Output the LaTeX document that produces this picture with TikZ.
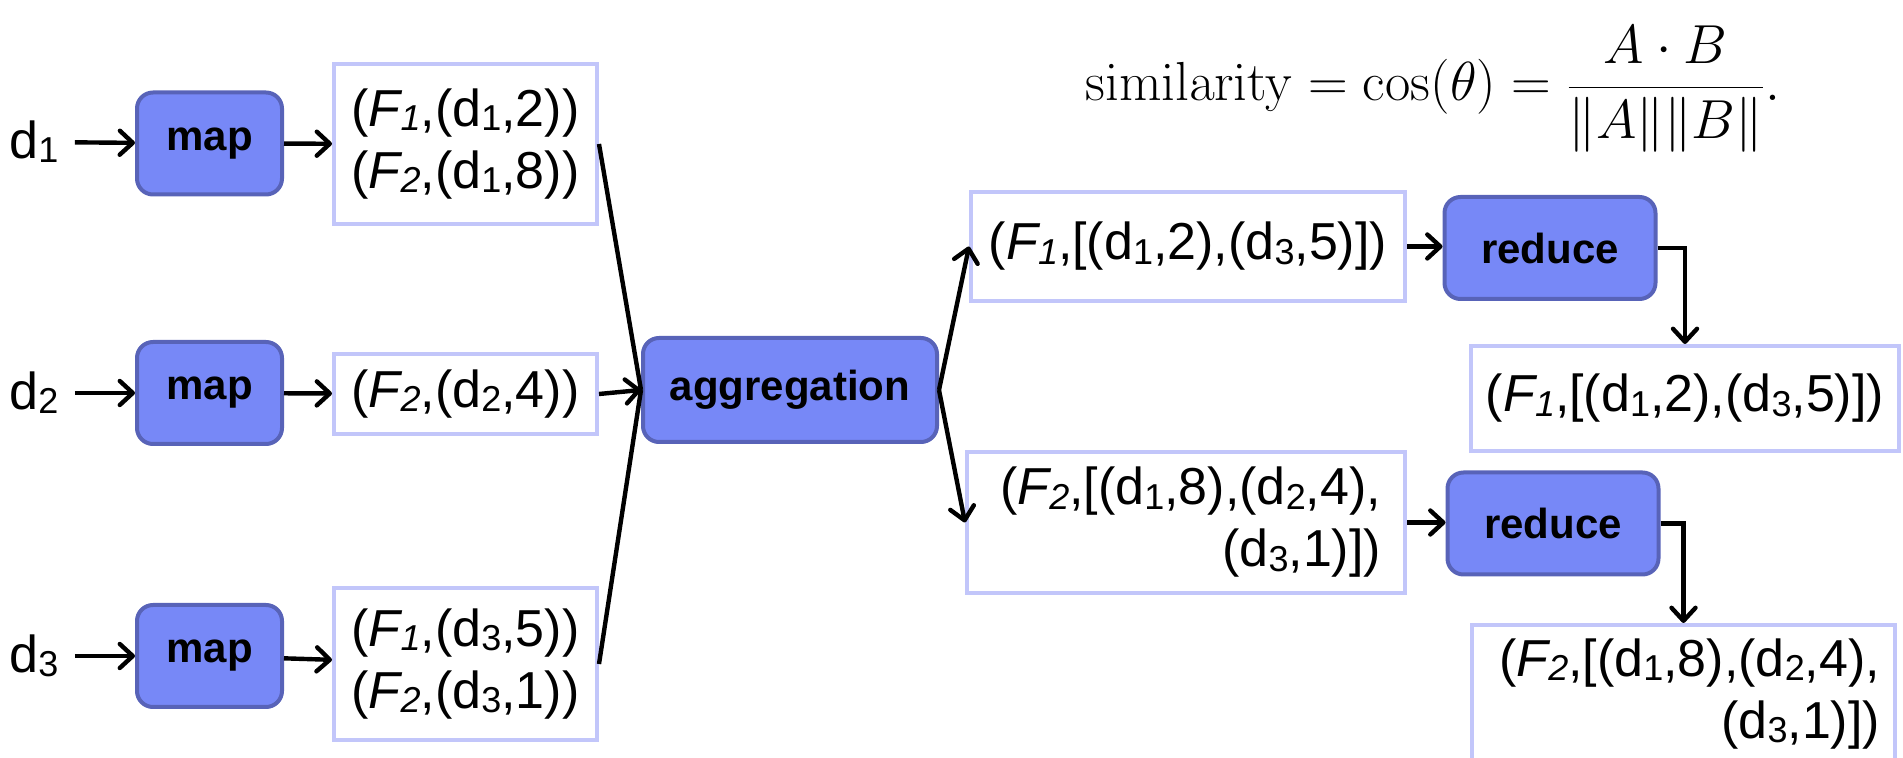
\documentclass[tikz,border=0pt]{standalone}
\usepackage{fix-cm}
\usepackage[no-math]{fontspec}
\setmainfont{Liberation Sans}
\usetikzlibrary{arrows.meta}

\definecolor{funcfill}{HTML}{7788F7}
\definecolor{funcline}{HTML}{5863B8}
\definecolor{pairline}{HTML}{C2C6FA}

\newcommand{\lowdigit}[1]{\raisebox{-0.15ex}{\fontsize{18}{18}\selectfont #1}}
\newcommand{\Fk}[1]{\textit{F\lowdigit{#1}}}
\newcommand{\dk}[1]{d\lowdigit{#1}}

\tikzset{
  func/.style={draw=funcline, fill=funcfill, line width=2pt, rounded corners=8pt,
    font=\fontsize{21}{25}\selectfont\bfseries, inner sep=0pt, minimum height=51pt},
  pair/.style={draw=pairline, line width=2pt, font=\fontsize{26}{31}\selectfont,
    inner sep=0pt, align=center},
  inlabel/.style={font=\fontsize{26}{31}\selectfont, inner sep=2pt},
  flow/.style={-{Straight Barb[length=6.5pt,width=12pt,line width=2.2pt,round]}, line width=2.2pt},
  link/.style={line width=2.2pt},
}

\begin{document}
\begin{tikzpicture}[x=0.5pt,y=-0.5pt]
    \useasboundingbox (0,0) rectangle (1903,758);

    % Inputs and map steps (left)
    \node[inlabel] (d1) at (34,142) {\dk{1}};
    \node[inlabel] (d2) at (34,393) {\dk{2}};
    \node[inlabel] (d3) at (34,656) {\dk{3}};

    \node[func, minimum width=72.5pt] (map1) at (209.5,143.5) {map};
    \node[func, minimum width=72.5pt] (map2) at (209.5,393) {map};
    \node[func, minimum width=72.5pt] (map3) at (209.5,656) {map};

    \node[pair, minimum width=131.5pt, minimum height=80pt] (box1) at (465.5,144)
        {(\Fk{1},(\dk{1},2))\\(\Fk{2},(\dk{1},8))};
    \node[pair, minimum width=131.5pt, minimum height=40pt] (box2) at (465.5,394)
        {(\Fk{2},(\dk{2},4))};
    \node[pair, minimum width=131.5pt, minimum height=76pt] (box3) at (465.5,664)
        {(\Fk{1},(\dk{3},5))\\(\Fk{2},(\dk{3},1))};

    % Aggregation (middle)
    \node[func, minimum width=147pt, minimum height=52pt] (agg) at (790,390) {aggregation};

    % Grouped pairs and reduce steps (right)
    \node[pair, minimum width=217pt, minimum height=54.5pt] (grp1) at (1188,246.5)
        {(\Fk{1},[(\dk{1},2),(\dk{3},5)])};
    \node[pair, text width=195pt, inner xsep=12pt, align=right, minimum height=70.5pt] (grp2) at (1186,522.5)
        {(\Fk{2},[(\dk{1},8),(\dk{2},4),\\(\dk{3},1)])};

    \node[func, minimum width=105.5pt] (red1) at (1550,248) {reduce};
    \node[func, minimum width=105.5pt] (red2) at (1553,523.5) {reduce};

    \node[pair, minimum width=214pt, minimum height=52.5pt] (out1) at (1685,398.5)
        {(\Fk{1},[(\dk{1},2),(\dk{3},5)])};
    \node[pair, anchor=north, text width=196.5pt, inner xsep=7.5pt, inner ysep=7pt, align=right] (out2) at (1683.5,623)
        {(\Fk{2},[(\dk{1},8),(\dk{2},4),\\(\dk{3},1)])};

    % Cosine similarity
    \node[anchor=base, font=\fontsize{27.5}{33}\selectfont] (sim) at (1433,101)
        {$\displaystyle \mathrm{similarity}=\cos(\theta)=\frac{A\cdot B}{\|A\|\|B\|}.$};

    % Arrows
    \draw[flow, shorten <=6pt] (d1) -- (map1);
    \draw[flow, shorten <=6pt] (d2) -- (map2);
    \draw[flow, shorten <=6pt] (d3) -- (map3);
    \draw[flow] (map1) -- (box1);
    \draw[flow] (map2) -- (box2);
    \draw[flow] (map3) -- (box3);

    \draw[link] (box1.east) -- (agg.west);
    \draw[link] (box3.east) -- (agg.west);
    \draw[flow] (box2.east) -- (agg.west);

    \draw[flow] (agg.east) -- (grp1.west);
    \draw[flow] (agg.east) -- (grp2.west);

    \draw[flow] (grp1.east) -- (grp1.east -| red1.west);
    \draw[flow] (grp2.east) -- (grp2.east -| red2.west);
    \draw[flow] (red1.east) -| (out1.north);
    \draw[flow] (red2.east) -| (out2.north);
\end{tikzpicture}
\end{document}
